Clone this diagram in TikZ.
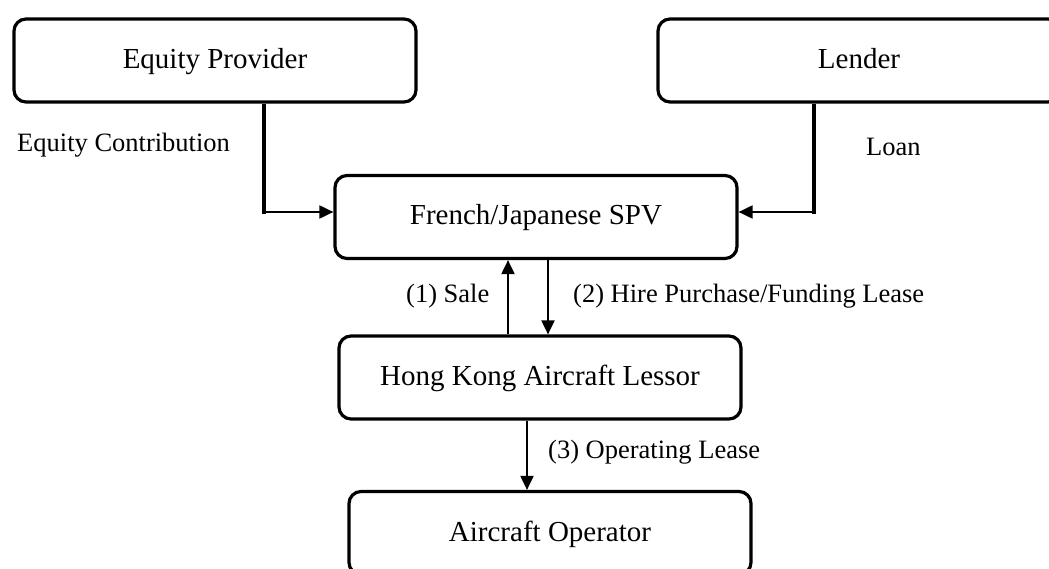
\documentclass[tikz,border=0pt]{standalone}
\usepackage{fontspec}
\setmainfont{Liberation Serif}
\usetikzlibrary{arrows.meta}

\begin{document}
\begin{tikzpicture}[x=1pt,y=-1pt,
  party/.style={draw, line width=3.2pt, rounded corners=12pt, inner sep=0pt,
    minimum width=402pt, minimum height=83pt,
    font=\fontsize{29}{34}\selectfont, text height=19pt, text depth=3pt},
  feed/.style={line width=3.6pt},
  flow/.style={line width=2pt, -{Triangle[length=14pt,width=13pt]}},
  note/.style={inner sep=0pt, anchor=base west, font=\fontsize{26.5}{31}\selectfont}]

  \useasboundingbox (0,0) rectangle (1049,569);
  \clip (0,0) rectangle (1049,569);

  % parties
  \node[party] (ep)  at (215,60.5) {Equity Provider};
  \node[party] (len) at (859,60.5) {Lender};
  \node[party] (spv) at (536,217) {French/Japanese SPV};
  \node[party] (hk)  at (540,377.5) {Hong Kong Aircraft Lessor};
  \node[party] (op)  at (550,533) {Aircraft Operator};

  % funding into the SPV
  \coordinate (epbend)  at (264,212);
  \coordinate (lenbend) at (814,212);
  \draw[feed] (ep.south -| epbend) -- ([yshift=-1.8pt]epbend);
  \draw[flow] ([xshift=-1.8pt]epbend) -- (epbend -| spv.west);
  \draw[feed] (len.south -| lenbend) -- ([yshift=-1.8pt]lenbend);
  \draw[flow] ([xshift=1.8pt]lenbend) -- (lenbend -| spv.east);

  % aircraft transactions
  \coordinate (salex) at (508,0);
  \coordinate (hirex) at (548,0);
  \coordinate (oplx)  at (527,0);
  \draw[flow] (hk.north -| salex) -- (spv.south -| salex);
  \draw[flow] (spv.south -| hirex) -- (hk.north -| hirex);
  \draw[flow] (hk.south -| oplx) -- (op.north -| oplx);

  % labels
  \node[note] (lbleq)   at (17,152)  {Equity Contribution};
  \node[note] (lblloan) at (866,156) {Loan};
  \node[note] (lblsale) at (406,302) {(1) Sale};
  \node[note] (lblhire) at (573,302) {(2) Hire Purchase/Funding Lease};
  \node[note] (lblopl)  at (548,458) {(3) Operating Lease};
\end{tikzpicture}
\end{document}
